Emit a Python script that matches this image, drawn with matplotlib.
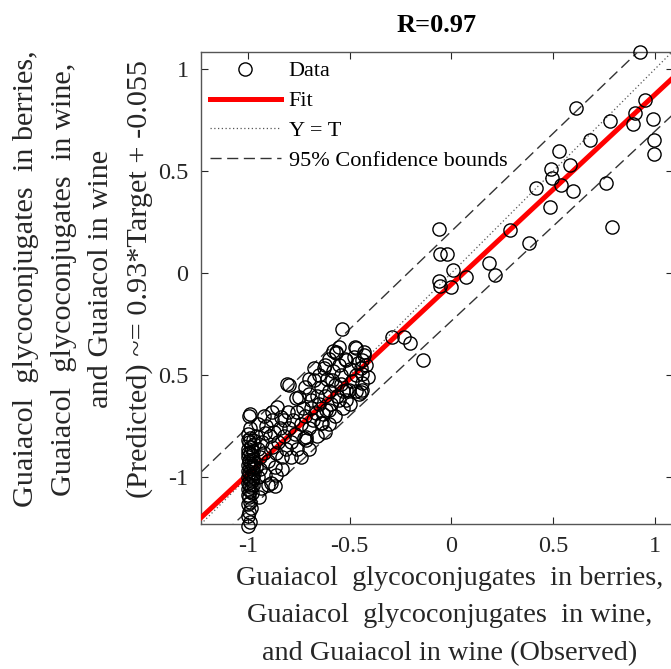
import numpy as np
import matplotlib
matplotlib.use("Agg")
import matplotlib.pyplot as plt
from matplotlib.lines import Line2D

plt.rcParams['font.family'] = ['Liberation Serif', 'DejaVu Serif']

# ---------------- data ----------------
observed = [
    # column at target ~ -1
    -1.0, -0.99, -0.995, -0.985, -1.0, -0.99, -0.98, -1.0, -0.995, -0.985,
    -1.0, -0.99, -0.98, -1.0, -0.995, -0.985, -1.0, -0.99, -0.98, -1.0,
    -0.995, -0.985, -1.0, -0.99, -0.98, -1.0, -0.995, -0.99, -1.0, -0.985,
    -0.995, -1.0, -0.99, -1.0, -0.975, -0.975, -0.975, -0.975, -0.975, -0.975,
    -0.97, -0.97, -0.97, -1.0, -1.0, -0.99, -0.995, -0.99,
    # dense cluster
    -0.96, -0.95, -0.94, -0.96, -0.95, -0.946, -0.937, -0.913, -0.888, -0.864,
    -0.864, -0.913, -0.880, -0.831, -0.790, -0.880, -0.839, -0.798, -0.716, -0.724,
    -0.806, -0.765, -0.798, -0.856, -0.749, -0.691, -0.617, -0.642, -0.790, -0.716,
    -0.700, -0.667, -0.601, -0.552, -0.519, -0.453, -0.634, -0.675, -0.626, -0.675,
    -0.585, -0.543, -0.502, -0.519, -0.538, -0.473, -0.429, -0.565, -0.516, -0.445,
    -0.437, -0.437, -0.470, -0.437, -0.568, -0.445, -0.289, -0.232, -0.203, -0.141,
    -0.92, -0.90, -0.93, -0.91, -0.89, -0.87, -0.85, -0.86, -0.84, -0.82,
    -0.82, -0.80, -0.78, -0.77, -0.76, -0.74, -0.73, -0.72, -0.70, -0.69,
    -0.68, -0.66, -0.65, -0.64, -0.63, -0.62, -0.61, -0.60, -0.59, -0.58,
    -0.57, -0.56, -0.55, -0.54, -0.53, -0.52, -0.50, -0.49, -0.48, -0.47,
    -0.46, -0.44, -0.43, -0.42, -0.41, -0.88, -0.92, -0.95, -0.94, -0.90,
    -0.86, -0.83, -0.81, -0.76, -0.74, -0.70, -0.66, -0.62, -0.60, -0.57,
    -0.53, -0.50, -0.47, -0.72, -0.70, -0.65, -0.62, -0.60, -0.58, -0.55,
    # upper part
    0.926, 0.614, 0.951, 0.901, 0.992, 0.893, 0.782, 0.680, 0.995, 0.995,
    0.532, 0.585, 0.491, 0.496, 0.540, 0.417, 0.598, 0.759, 0.483, 0.791,
    0.291, 0.384, -0.062, -0.056, -0.023, 0.007, 0.072, 0.184, 0.217, -0.059,
    -0.056, -0.001,
]
predicted = [
    -0.79, -0.81, -0.83, -0.85, -0.86, -0.88, -0.89, -0.90, -0.92, -0.93,
    -0.94, -0.95, -0.96, -0.97, -0.98, -0.99, -1.00, -1.01, -1.02, -1.03,
    -1.04, -1.05, -1.06, -1.07, -1.08, -1.09, -1.10, -1.12, -1.13, -1.15,
    -1.17, -1.19, -1.22, -1.24, -0.82, -0.87, -0.91, -0.95, -1.00, -1.04,
    -0.84, -0.93, -0.98, -0.82, -0.88, -0.76, -0.70, -0.69,
    -0.80, -0.86, -0.90, -0.95, -1.00, -1.097, -1.055, -0.99, -1.031, -1.046,
    -0.95, -0.786, -0.851, -0.900, -0.900, -0.680, -0.704, -0.761, -0.819, -0.810,
    -0.541, -0.614, -0.549, -0.655, -0.606, -0.623, -0.672, -0.737, -0.827, -0.802,
    -0.590, -0.688, -0.672, -0.623, -0.574, -0.590, -0.737, -0.467, -0.467, -0.525,
    -0.525, -0.541, -0.574, -0.623, -0.276, -0.361, -0.386, -0.391, -0.426, -0.467,
    -0.495, -0.574, -0.369, -0.426, -0.386, -0.582, -0.312, -0.315, -0.342, -0.426,
    -0.88, -0.92, -0.83, -0.75, -0.80, -0.78, -0.83, -0.88, -0.76, -0.72,
    -0.80, -0.68, -0.72, -0.79, -0.68, -0.74, -0.66, -0.70, -0.76, -0.66,
    -0.72, -0.60, -0.64, -0.56, -0.69, -0.60, -0.52, -0.58, -0.64, -0.48,
    -0.55, -0.60, -0.45, -0.50, -0.58, -0.42, -0.47, -0.53, -0.41, -0.50,
    -0.44, -0.54, -0.40, -0.45, -0.51, -0.72, -0.70, -0.74, -0.96, -1.04,
    -0.99, -0.96, -0.86, -0.86, -0.90, -0.86, -0.80, -0.78, -0.74, -0.70,
    -0.66, -0.64, -0.58, -0.56, -0.52, -0.50, -0.45, -0.42, -0.38, -0.36,
    1.085, 0.81, 0.848, 0.786, 0.755, 0.730, 0.745, 0.655, 0.652, 0.587,
    0.598, 0.529, 0.510, 0.469, 0.431, 0.418, 0.402, 0.443, 0.325, 0.227,
    0.211, 0.149, 0.216, 0.096, 0.096, 0.015, -0.018, 0.051, -0.010, -0.038,
    -0.064, -0.067,
]

fit_coef = [0.93, -0.055]      # slope, intercept
upper_coef = [0.96, 0.205]
lower_coef = [0.93, -0.235]

x_ticks = [-1, -0.5, 0, 0.5, 1]
x_tick_labels = ['-1', '-0.5', '0', '0.5', '1']
y_ticks = [-1, -0.5, 0, 0.5, 1]
y_tick_labels = ['-1', '0.5', '0', '0.5', '1']

title = 'R=0.97'
xlabel = ('Guaiacol  glycoconjugates  in berries,\n'
          'Guaiacol  glycoconjugates  in wine,\n'
          'and Guaiacol in wine (Observed)')
ylabel = ('Guaiacol  glycoconjugates  in berries,\n'
          'Guaiacol  glycoconjugates  in wine,\n'
          'and Guaiacol in wine\n'
          '(Predicted) ~= 0.93*Target + -0.055')

# ---------------- figure ----------------
W, H = 671, 669
fig = plt.figure(figsize=(W / 100, H / 100), dpi=100)
ax = fig.add_axes([201 / W, (H - 524) / H, 472 / W, 472 / H])
xlim = (-1.23, 1.09)
ylim = (-1.23, 1.085)
ax.set_xlim(*xlim)
ax.set_ylim(*ylim)

lx = np.array(xlim)
ax.plot(lx, lx, linestyle=(0, (1, 2)), color='#555555', lw=0.9, zorder=2)
ax.plot(lx, upper_coef[0] * lx + upper_coef[1], linestyle=(0, (8, 4)),
        color='#333333', lw=1.0, zorder=2)
ax.plot(lx, lower_coef[0] * lx + lower_coef[1], linestyle=(0, (8, 4)),
        color='#333333', lw=1.0, zorder=2)
ax.plot(lx, fit_coef[0] * lx + fit_coef[1], color='#ff0000', lw=3.6, zorder=3)
ax.plot(observed, predicted, 'o', mfc='none', mec='black', ms=9.5, mew=1.0,
        zorder=4, clip_on=False)

ax.set_xticks(x_ticks)
ax.set_xticklabels(x_tick_labels)
ax.set_yticks(y_ticks)
ax.set_yticklabels(y_tick_labels)
ax.tick_params(direction='in', top=True, right=True, length=5, width=0.8,
               labelsize=17.5, colors='#262626', pad=9)
for s in ax.spines.values():
    s.set_color('#555555')
    s.set_linewidth(1.0)

handles = [
    Line2D([], [], marker='o', ls='none', mfc='none', mec='black', ms=9.5, mew=1.0),
    Line2D([], [], color='#ff0000', lw=3.6),
    Line2D([], [], color='#555555', lw=0.9, linestyle=(0, (1, 2))),
    Line2D([], [], color='#333333', lw=1.0, linestyle=(0, (8, 4))),
]
labels = ['Data', 'Fit', 'Y = T', '95% Confidence bounds']
ax.legend(handles, labels, loc='upper left', frameon=False, fontsize=16,
          handlelength=3.2, handletextpad=0.35, labelspacing=0.42,
          borderaxespad=0.25, borderpad=0.15)

fig.text(437 / W, 1 - 26 / H, title, ha='center', va='center',
         fontsize=19, fontweight='bold', color='black')
fig.text(450 / W, 1 - 616 / H, xlabel, ha='center', va='center',
         multialignment='center', fontsize=20.3, linespacing=1.66, color='#262626')
fig.text(83 / W, 1 - 279 / H, ylabel, ha='center', va='center', rotation=90,
         multialignment='center', fontsize=21.8, linespacing=1.57, color='#262626')

fig.savefig('out.png', dpi=100)
